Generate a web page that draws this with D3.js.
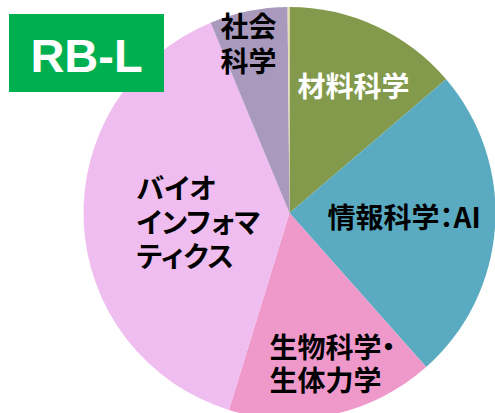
<!DOCTYPE html>
<html>
<head>
<meta charset="utf-8">
<script src="https://cdn.jsdelivr.net/npm/d3@7"></script>
<style>
  body { margin: 0; background: #fff; }
  svg text { font-family: "Noto Sans CJK JP", sans-serif; font-weight: bold; font-feature-settings: "palt"; }
</style>
</head>
<body>
<svg id="chart" width="495" height="413"></svg>
<script>
// fields, clockwise from 12 o'clock
var fields = ["材料科学", "情報科学：AI", "生物科学・生体力学", "バイオインフォマティクス", "社会科学", "その他"];
var shares = [13.75, 24.7, 16.3, 39.0, 6.1, 0.15];
var colors = ["#839a4c", "#5aabc1", "#ef99cb", "#efbdef", "#a899bd", "#e9ddb3"];
var labelLines = [["材料科学"], ["情報科学：AI"], ["生物科学・", "生体力学"], ["バイオ", "インフォマ", "ティクス"], ["社会", "科学"], []];

var svg = d3.select("#chart");
var cx = 289.5, cy = 213, radius = 206;

var pie = d3.pie().value(function (d) { return d; }).sort(null);
var arc = d3.arc().innerRadius(0).outerRadius(radius);
var arcs = pie(shares);

var g = svg.append("g").attr("transform", "translate(" + cx + "," + cy + ")");

g.selectAll("path.slice")
    .data(arcs)
    .enter().append("path")
    .attr("class", "slice")
    .attr("d", arc)
    .attr("fill", function (d, i) { return colors[i]; });

// label anchors (left edge, first baseline) relative to centre
var labelPos = [[8, -116], [38, 15], [-20, 145], [-153, -14], [-69, -176], [0, 0]];
var lineGap = [0, 0, 33, 34, 35, 0];

labelLines.forEach(function (lines, i) {
    if (!lines.length) return;
    var t = g.append("text")
        .attr("x", labelPos[i][0])
        .attr("y", labelPos[i][1])
        .style("font-size", "28px")
        .attr("fill", i === 0 ? "#fff" : "#000");
    lines.forEach(function (s, j) {
        t.append("tspan")
            .attr("x", labelPos[i][0])
            .attr("dy", j === 0 ? 0 : lineGap[i])
            .text(s);
    });
});

// badge
svg.append("rect")
    .attr("x", 9).attr("y", 14)
    .attr("width", 155).attr("height", 78)
    .attr("fill", "#00b050");
svg.append("text")
    .attr("x", 86.5).attr("y", 72)
    .attr("text-anchor", "middle")
    .style("font-family", "'Liberation Sans', Arial, sans-serif")
    .style("font-size", "47px")
    .attr("fill", "#fff")
    .text("RB-L");
</script>
</body>
</html>
